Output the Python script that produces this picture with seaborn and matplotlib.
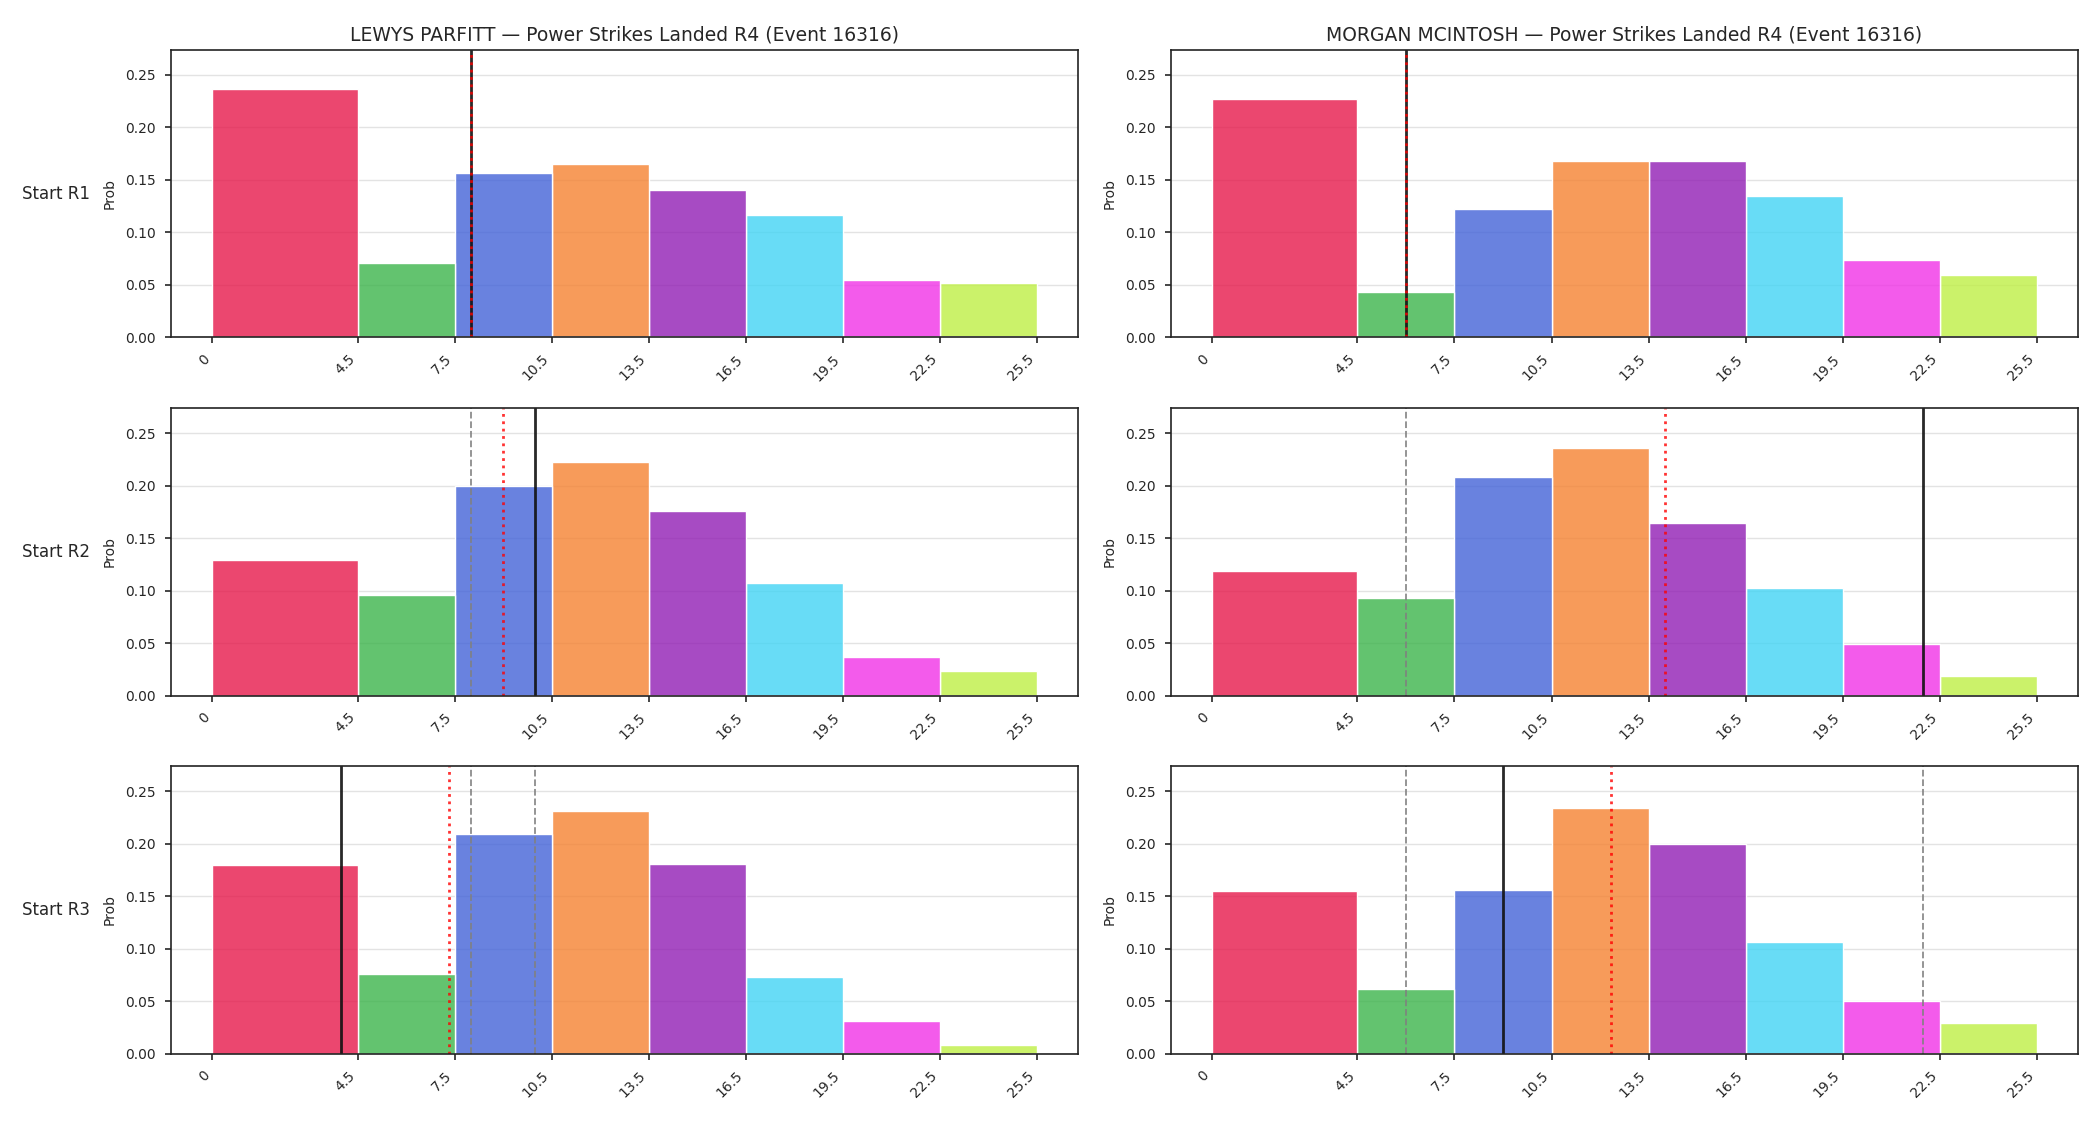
import numpy as np
import pandas as pd
import matplotlib
matplotlib.use('Agg')
import matplotlib.pyplot as plt
import seaborn as sns

# bins of power strikes landed
bin_edges = [0, 4.5, 7.5, 10.5, 13.5, 16.5, 19.5, 22.5, 25.5]
bin_labels = ['0', '4.5', '7.5', '10.5', '13.5', '16.5', '19.5', '22.5', '25.5']
bar_colors = ['#e6194b', '#3cb44b', '#4363d8', '#f58231',
              '#911eb4', '#42d4f4', '#f032e6', '#bfef45']

fighters = ['LEWYS PARFITT', 'MORGAN MCINTOSH']
rounds = ['Start R1', 'Start R2', 'Start R3']

# predicted probability per bin, by starting round
parfitt_r1 = [0.237, 0.071, 0.157, 0.165, 0.140, 0.117, 0.055, 0.052]
parfitt_r2 = [0.129, 0.096, 0.200, 0.222, 0.176, 0.107, 0.037, 0.023]
parfitt_r3 = [0.180, 0.076, 0.209, 0.231, 0.181, 0.073, 0.031, 0.008]
mcintosh_r1 = [0.227, 0.043, 0.122, 0.168, 0.168, 0.135, 0.074, 0.059]
mcintosh_r2 = [0.119, 0.093, 0.208, 0.236, 0.164, 0.102, 0.049, 0.019]
mcintosh_r3 = [0.155, 0.062, 0.156, 0.234, 0.200, 0.106, 0.050, 0.029]

# landed per round (actual)
parfitt_landed = [8, 10, 4]
mcintosh_landed = [6, 22, 9]

probs = {
    'LEWYS PARFITT': [parfitt_r1, parfitt_r2, parfitt_r3],
    'MORGAN MCINTOSH': [mcintosh_r1, mcintosh_r2, mcintosh_r3],
}
landed = {'LEWYS PARFITT': parfitt_landed, 'MORGAN MCINTOSH': mcintosh_landed}

sns.set_style('ticks')
plt.rcParams['font.family'] = ['DejaVu Sans']
plt.rcParams['axes.edgecolor'] = '#222222'
plt.rcParams['axes.linewidth'] = 1.2

fig, axes = plt.subplots(3, 2, figsize=(21, 11.25), dpi=100)
fig.subplots_adjust(left=0.0813, right=0.9895, top=0.9556, bottom=0.0634,
                    wspace=0.102, hspace=0.246)

mids = (np.array(bin_edges[:-1]) + np.array(bin_edges[1:])) / 2
ymax = max(max(v) for f in fighters for v in probs[f]) * 1.155

for c, fighter in enumerate(fighters):
    for r, rnd in enumerate(rounds):
        ax = axes[r, c]
        df = pd.DataFrame({'x': mids, 'p': probs[fighter][r], 'bin': bin_labels[:-1]})
        sns.histplot(data=df, x='x', weights='p', bins=bin_edges, hue='bin',
                     hue_order=bin_labels[:-1], palette=bar_colors, multiple='layer',
                     alpha=0.8, edgecolor='white', linewidth=1, legend=False, ax=ax)

        vals = landed[fighter][:r + 1]
        for v in vals[:-1]:
            ax.axvline(v, color='gray', linestyle='--', linewidth=1.3, alpha=0.9)
        ax.axvline(vals[-1], color='#111111', linestyle='-', linewidth=2, alpha=0.9)
        ax.axvline(np.mean(vals), color='red', linestyle=':', linewidth=2, alpha=0.8)

        ax.set_xlim(-1.275, 26.775)
        ax.set_ylim(0, ymax)
        ax.set_xticks(bin_edges)
        ax.set_xticklabels(bin_labels, rotation=45, ha='right')
        ax.set_yticks([0, 0.05, 0.10, 0.15, 0.20, 0.25])
        ax.tick_params(labelsize=10, length=4.5, width=1.2, pad=6)
        ax.grid(axis='y', color='#e3e3e3', linewidth=1)
        ax.set_axisbelow(True)
        ax.set_xlabel('')
        ax.set_ylabel('Prob', fontsize=10, labelpad=6)
        if r == 0:
            ax.set_title(f'{fighter} — Power Strikes Landed R4 (Event 16316)',
                         fontsize=13.5, pad=7)
        if c == 0:
            ax.text(-0.089, 0.5, rnd, transform=ax.transAxes, ha='right',
                    va='center', fontsize=12)

fig.savefig('out.png', dpi=100)
